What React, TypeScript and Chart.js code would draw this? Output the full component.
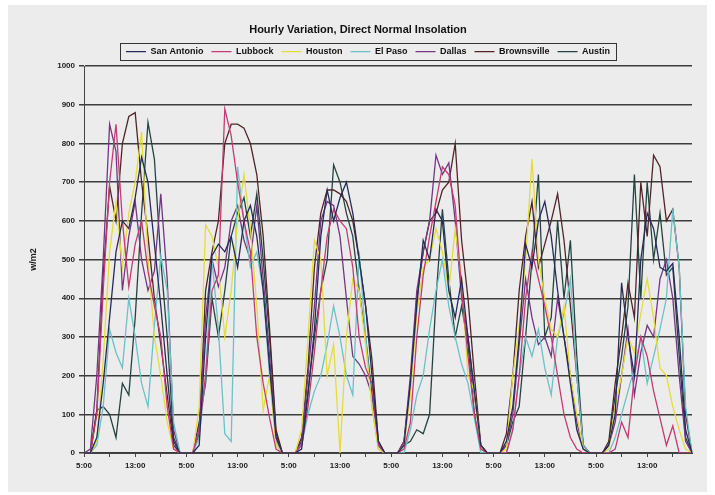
import React, { useEffect, useRef } from "react";
import { Chart, registerables } from "chart.js";

Chart.register(...registerables);

const dayHours = ["5:00","6:00","7:00","8:00","9:00","10:00","11:00","12:00","13:00","14:00","15:00","16:00","17:00","18:00","19:00","20:00"];
const categories: string[] = [];
for (let d = 0; d < 6; d++) for (const h of dayHours) categories.push(h);

const yTicks = [0, 100, 200, 300, 400, 500, 600, 700, 800, 900, 1000];

const sanAntonio = [
  0,0,40,180,350,520,600,580,660,765,700,540,380,200,30,0,
  0,0,20,300,510,540,520,560,480,600,640,560,420,220,40,0,
  0,0,10,150,320,560,680,600,660,700,620,500,380,200,30,0,
  0,0,20,180,380,550,500,630,600,420,350,450,300,160,20,0,
  0,0,30,120,300,540,480,600,650,560,420,300,180,60,10,0,
  0,0,20,100,440,300,200,500,620,580,480,470,490,300,60,0,
];
const lubbock = [
  0,0,100,420,700,850,600,430,540,600,470,380,300,120,10,0,
  0,0,60,200,420,460,890,820,700,600,520,300,180,90,10,0,
  0,0,20,120,260,420,560,630,600,580,480,300,220,180,20,0,
  0,0,10,80,300,460,560,650,740,720,640,420,250,100,10,0,
  0,0,0,60,200,400,520,450,380,300,200,100,40,10,0,0,
  0,0,0,10,80,40,200,300,250,160,90,20,70,0,0,0,
];
const houston = [
  0,0,30,240,520,650,480,620,700,830,500,300,200,80,10,0,
  0,0,120,590,560,480,300,420,600,720,580,380,110,200,20,0,
  0,0,60,300,550,500,200,280,0,300,450,420,280,120,10,0,
  0,0,20,150,360,480,500,580,520,420,580,450,200,160,10,0,
  0,0,10,200,330,500,760,500,400,320,300,380,200,100,10,0,
  0,0,10,120,200,300,260,360,450,350,220,200,120,60,10,0,
];
const elPaso = [
  0,0,20,120,320,260,220,400,300,180,120,330,510,420,80,0,
  0,0,40,200,500,320,50,30,740,600,480,520,420,200,30,0,
  0,0,20,100,160,200,280,380,300,200,150,520,300,120,10,0,
  0,0,0,60,150,200,320,420,500,380,300,230,180,90,0,0,
  0,0,0,60,200,300,250,320,220,150,300,360,450,200,20,0,
  0,0,0,40,100,160,220,300,180,250,320,400,630,480,120,0,
];
const dallas = [
  0,10,200,500,850,780,420,560,650,500,420,470,670,450,60,0,
  0,0,60,350,500,430,480,600,640,550,500,640,450,250,40,0,
  0,0,30,200,380,600,650,640,560,400,250,230,200,150,20,0,
  0,0,30,200,420,520,600,770,720,750,600,400,300,150,20,0,
  0,0,20,100,280,450,350,280,300,250,400,300,200,80,10,0,
  0,0,20,80,200,320,150,260,330,300,450,500,400,200,30,0,
];
const brownsville = [
  0,0,110,460,690,600,800,870,880,700,560,400,280,150,20,0,
  0,0,50,420,520,600,800,850,850,840,800,720,560,320,60,0,
  0,0,40,220,480,620,680,680,670,650,600,500,380,240,30,0,
  0,0,30,180,400,520,600,620,680,700,800,550,400,200,20,0,
  0,0,50,200,420,560,650,480,540,600,670,550,380,200,20,0,
  0,0,30,180,300,440,350,700,560,770,740,600,630,480,100,0,
];
const austin = [
  0,0,110,120,100,40,180,150,350,620,855,760,500,300,40,0,
  0,0,80,180,400,300,420,560,620,660,560,670,500,300,50,0,
  0,0,30,160,300,420,500,745,700,620,560,420,300,150,20,0,
  0,0,20,30,60,50,100,400,630,450,300,380,280,100,10,0,
  0,0,20,80,120,300,500,720,300,350,600,400,550,250,20,0,
  0,0,20,150,250,380,720,400,700,500,620,460,480,250,40,0,
];

const seriesNames = ["San Antonio", "Lubbock", "Houston", "El Paso", "Dallas", "Brownsville", "Austin"];
const seriesValues = [sanAntonio, lubbock, houston, elPaso, dallas, brownsville, austin];
const seriesColors = ["#262c58", "#c23c74", "#e4dc3c", "#6cc0c8", "#743683", "#522428", "#244442"];

const FONT = "'Liberation Sans', Arial, sans-serif";
const LEGEND_SHIFT = 10;

const bgPlugin = {
  id: "bgPanel",
  beforeDraw(chart: any) {
    const ctx = chart.ctx;
    ctx.save();
    ctx.fillStyle = "#ffffff";
    ctx.fillRect(0, 0, chart.width, chart.height);
    ctx.fillStyle = "#ececec";
    ctx.fillRect(8, 5, 699, 487);
    ctx.restore();
    const lg = chart.legend;
    if (lg && !lg.__shifted) {
      const orig = lg.draw.bind(lg);
      lg.draw = (...args: any[]) => {
        chart.ctx.save();
        chart.ctx.translate(LEGEND_SHIFT, 0);
        orig(...args);
        chart.ctx.restore();
      };
      lg.__shifted = true;
    }
  },
  afterDraw(chart: any) {
    const lg = chart.legend;
    if (!lg || !lg.legendHitBoxes || !lg.legendHitBoxes.length) return;
    const boxes = lg.legendHitBoxes;
    let l = Infinity, r = -Infinity, t = Infinity, b = -Infinity;
    for (const h of boxes) {
      l = Math.min(l, h.left); r = Math.max(r, h.left + h.width);
      t = Math.min(t, h.top); b = Math.max(b, h.top + h.height);
    }
    const ctx = chart.ctx;
    ctx.save();
    ctx.strokeStyle = "#333";
    ctx.lineWidth = 1;
    ctx.strokeRect(Math.round(l - 6 + LEGEND_SHIFT) + 0.5, Math.round(t - 4) + 0.5, Math.round(r - l + 12), Math.round(b - t + 8));
    ctx.restore();
  },
};

export default function App() {
  const ref = useRef<HTMLCanvasElement | null>(null);
  useEffect(() => {
    if (!ref.current) return;
    const chart = new Chart(ref.current, {
      type: "line",
      data: {
        labels: categories,
        datasets: seriesNames.map((n, i) => ({
          label: n,
          data: seriesValues[i],
          borderColor: seriesColors[i],
          backgroundColor: seriesColors[i],
          borderWidth: 1.3,
          pointRadius: 0,
          tension: 0,
          fill: false,
        })),
      },
      options: {
        responsive: false,
        animation: false,
        maintainAspectRatio: false,
        layout: { padding: { left: 24, right: 23, top: 15, bottom: 18 } },
        plugins: {
          title: {
            display: true,
            text: "Hourly Variation, Direct Normal Insolation",
            color: "#111",
            font: { family: FONT, size: 11, weight: "bold" },
            padding: { top: 8, bottom: 3 },
          },
          legend: {
            display: true,
            labels: {
              usePointStyle: true,
              pointStyle: "line",
              pointStyleWidth: 20,
              boxHeight: 9,
              padding: 8,
              color: "#111",
              font: { family: FONT, size: 9, weight: "bold" },
            },
          },
          tooltip: { enabled: false },
        },
        scales: {
          x: {
            type: "category",
            offset: false,
            grid: {
              display: true,
              drawOnChartArea: false,
              drawTicks: true,
              tickLength: 4,
              color: (c: any) => (c.index % 4 === 0 ? "#444" : "rgba(0,0,0,0)"),
            },
            border: { display: true, color: "#444", width: 1 },
            ticks: {
              autoSkip: false,
              maxRotation: 0,
              minRotation: 0,
              color: "#222",
              padding: 4,
              font: { family: FONT, size: 8, weight: "bold" },
              callback: (_v: any, i: number) => (i % 8 === 0 ? categories[i] : ""),
            },
            afterFit: (s: any) => { s.height = 24; },
          },
          y: {
            min: 0,
            max: 1000,
            afterBuildTicks: (s: any) => { s.ticks = yTicks.map((v) => ({ value: v })); },
            grid: {
              color: "#3c3c3c",
              lineWidth: 1.5,
              drawTicks: true,
              tickLength: 5,
            },
            border: { display: true, color: "#444", width: 1 },
            ticks: {
              color: "#222",
              padding: 4,
              font: { family: FONT, size: 8, weight: "bold" },
              callback: (v: any) => String(v),
            },
            title: {
              display: true,
              text: "w/m2",
              color: "#222",
              font: { family: FONT, size: 9, weight: "bold" },
              padding: 4,
            },
            afterFit: (s: any) => { s.width = 60; },
          },
        },
      },
      plugins: [bgPlugin],
    });
    return () => chart.destroy();
  }, []);
  return (
    <div style={{ position: "fixed", left: 0, top: 0, width: 715, height: 495 }}>
      <canvas ref={ref} width={715} height={495} style={{ width: 715, height: 495, display: "block" }} />
    </div>
  );
}
